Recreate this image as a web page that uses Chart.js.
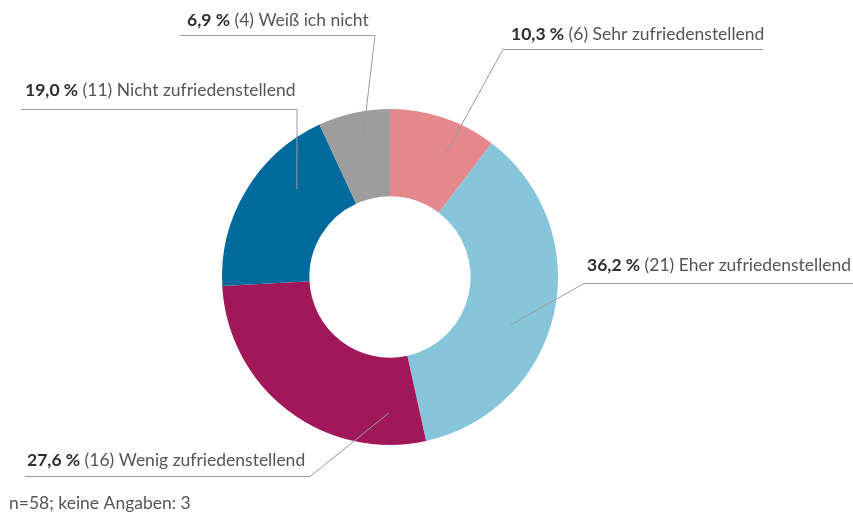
<!DOCTYPE html>
<html>
<head>
<meta charset="utf-8">
<script src="https://cdn.jsdelivr.net/npm/chart.js@4"></script>
<style>
  html, body { margin: 0; padding: 0; background: #fff; }
  #wrap { position: relative; width: 853px; height: 513px; }
</style>
</head>
<body>
<div id="wrap"><canvas id="chart" width="853" height="513"></canvas></div>
<script>
// data, clockwise from 12 o'clock
const categories = ['Sehr zufriedenstellend', 'Eher zufriedenstellend', 'Wenig zufriedenstellend', 'Nicht zufriedenstellend', 'Weiß ich nicht'];
const counts = [6, 21, 16, 11, 4];
const percents = ['10,3', '36,2', '27,6', '19,0', '6,9'];
const footnote = 'n=58; keine Angaben: 3';

const colors = ['#e5888d', '#87c5da', '#a1185a', '#006a9d', '#9d9d9d'];

// label placement (text start, baseline, underline, where the leader bends, point inside slice)
const labelLayout = [
  { x: 511, y: 40,  lineY: 49,  x0: 503, x1: 763, bend: 503, frac: 0.65, r: 134 },
  { x: 587, y: 271, lineY: 283, x0: 584, x1: 853, bend: 584, frac: 0.57, r: 130 },
  { x: 27,  y: 466, lineY: 476, x0: 25,  x1: 310, bend: 310, frac: 0.13, r: 136 },
  { x: 25,  y: 96,  lineY: 109, x0: 21,  x1: 297, bend: 297, frac: 0.68, r: 128 },
  { x: 187, y: 26,  lineY: 35,  x0: 180, x1: 375, bend: 375, frac: 0.47, r: 127 }
];

const FONT = 'Lato, "Open Sans", sans-serif';

const leaderLabels = {
  id: 'leaderLabels',
  afterDraw(chart) {
    const ctx = chart.ctx;
    const arcs = chart.getDatasetMeta(0).data;
    ctx.save();
    arcs.forEach((arc, i) => {
      const L = labelLayout[i];
      const a = arc.startAngle + (arc.endAngle - arc.startAngle) * L.frac;
      const px = arc.x + Math.cos(a) * L.r;
      const py = arc.y + Math.sin(a) * L.r;

      ctx.strokeStyle = '#9a9a9a';
      ctx.lineWidth = 1;
      ctx.beginPath();
      ctx.moveTo(L.x0, L.lineY + 0.5);
      ctx.lineTo(L.x1, L.lineY + 0.5);
      ctx.moveTo(L.bend, L.lineY + 0.5);
      ctx.lineTo(px, py);
      ctx.stroke();

      ctx.textBaseline = 'alphabetic';
      ctx.textAlign = 'left';
      const bold = percents[i] + ' %';
      const rest = ' (' + counts[i] + ') ' + categories[i];
      ctx.font = 'bold 17.5px ' + FONT;
      ctx.fillStyle = '#2e2e2e';
      ctx.fillText(bold, L.x, L.y);
      const w = ctx.measureText(bold).width;
      ctx.font = '17.5px ' + FONT;
      ctx.fillStyle = '#555555';
      ctx.fillText(rest, L.x + w, L.y);
    });

    ctx.font = '17.5px ' + FONT;
    ctx.fillStyle = '#555555';
    ctx.fillText(footnote, 9, 509);
    ctx.restore();
  }
};

new Chart(document.getElementById('chart').getContext('2d'), {
  type: 'doughnut',
  data: {
    labels: categories,
    datasets: [{
      data: counts,
      backgroundColor: colors,
      borderWidth: 0
    }]
  },
  options: {
    responsive: false,
    animation: false,
    cutout: '48%',
    layout: { padding: { top: 109, bottom: 68, left: 222, right: 295 } },
    plugins: {
      legend: { display: false },
      tooltip: { enabled: false }
    }
  },
  plugins: [leaderLabels]
});
</script>
</body>
</html>
